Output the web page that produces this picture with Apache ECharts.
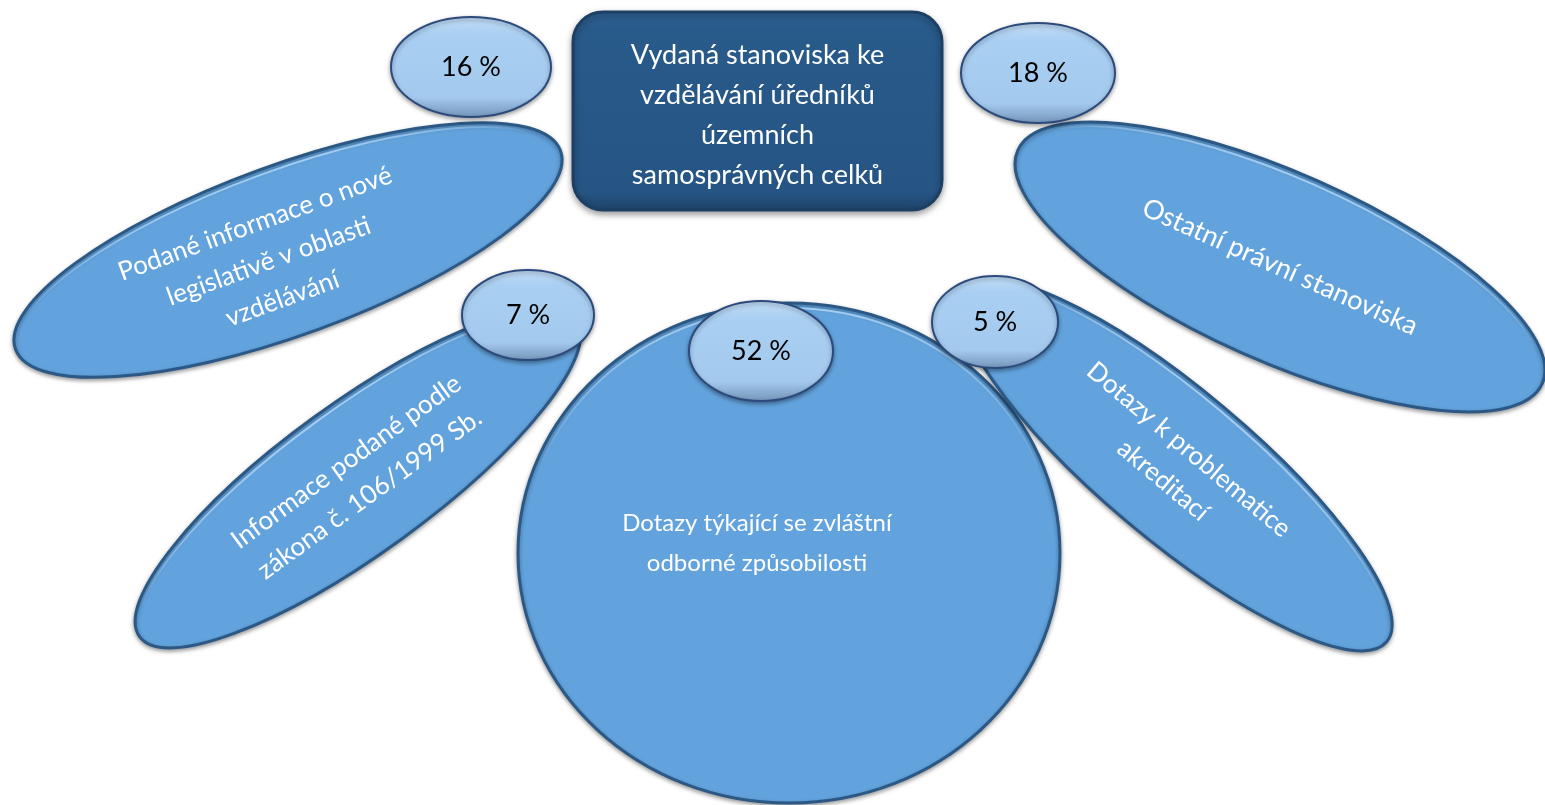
<!DOCTYPE html>
<html lang="cs">
<head>
    <meta charset="UTF-8">
    <title>Vydaná stanoviska</title>
    <script src="https://cdn.jsdelivr.net/npm/echarts@6/dist/echarts.min.js"></script>
    <style>
        html, body { margin: 0; padding: 0; background: #fff; }
        #main { width: 1545px; height: 805px; }
    </style>
</head>
<body>
    <div id="main"></div>
    <script>
        // data
        var centerTitle = 'Vydaná stanoviska ke\nvzdělávání úředníků\núzemních\nsamosprávných celků';
        var categories = [
            'Podané informace o nové\nlegislativě v oblasti\nvzdělávání',
            'Ostatní právní stanoviska',
            'Informace podané podle\nzákona č. 106/1999 Sb.',
            'Dotazy týkající se zvláštní\nodborné způsobilosti',
            'Dotazy k problematice\nakreditací'
        ];
        var shares = [16, 18, 7, 52, 5];

        // layout (centre x, centre y, radius x, radius y, rotation deg, text dx, text dy, font px)
        var petalLayout = [
            [288, 250, 290, 85, 20, -22, 4, 26],
            [1280, 267, 287, 94, -24, 0, 0, 27],
            [358, 478, 270, 75, 36, 0, 0, 26],
            [789, 553, 271, 250, 0, -32, -10, 24],
            [1176, 465, 275, 75, -40, 0, 0, 26]
        ];
        var bubbleLayout = [
            [471, 67, 80, 50],
            [1038, 73, 77, 50],
            [528, 315, 66, 45],
            [761, 351, 72, 50],
            [995, 322, 63, 46]
        ];
        var boxLayout = [573, 12, 942, 210];

        var petalData = categories.map(function (name, i) {
            return { name: name, value: petalLayout[i] };
        });
        var bubbleData = shares.map(function (v, i) {
            return { name: v + ' %', value: bubbleLayout[i] };
        });

        var font = 'Lato, "Open Sans", sans-serif';

        var chart = echarts.init(document.getElementById('main'));
        var option = {
            animation: false,
            grid: { left: 0, right: 0, top: 0, bottom: 0 },
            xAxis: { type: 'value', min: 0, max: 1545, show: false },
            yAxis: { type: 'value', min: 0, max: 805, inverse: true, show: false },
            series: [
                {
                    type: 'custom',
                    name: 'petals',
                    data: petalData,
                    renderItem: function (params, api) {
                        var c = api.coord([api.value(0), api.value(1)]);
                        var s = api.size([api.value(2), api.value(3)]);
                        var rot = api.value(4) * Math.PI / 180;
                        return {
                            type: 'group',
                            x: c[0], y: c[1],
                            rotation: rot,
                            children: [
                                {
                                    type: 'ellipse',
                                    shape: { cx: 0, cy: 0, rx: s[0], ry: s[1] },
                                    style: {
                                        fill: '#62a3de',
                                        stroke: '#2b5885',
                                        lineWidth: 3,
                                        shadowBlur: 4,
                                        shadowColor: 'rgba(0,0,0,0.35)',
                                        shadowOffsetY: 2
                                    }
                                },
                                {
                                    type: 'ellipse',
                                    shape: { cx: 0, cy: 0, rx: s[0] - 5, ry: s[1] - 5 },
                                    silent: true,
                                    style: {
                                        fill: 'none',
                                        stroke: new echarts.graphic.LinearGradient(0, 0, 0, 1, [
                                            { offset: 0, color: 'rgba(190,225,255,0.75)' },
                                            { offset: 0.35, color: 'rgba(190,225,255,0)' },
                                            { offset: 1, color: 'rgba(190,225,255,0)' }
                                        ]),
                                        lineWidth: 2
                                    }
                                },
                                {
                                    type: 'text',
                                    x: api.value(5), y: api.value(6),
                                    style: {
                                        text: categories[params.dataIndex],
                                        fill: '#ffffff',
                                        font: api.value(7) + 'px ' + font,
                                        align: 'center',
                                        verticalAlign: 'middle',
                                        lineHeight: 40
                                    }
                                }
                            ]
                        };
                    }
                },
                {
                    type: 'custom',
                    name: 'box',
                    data: [{ name: centerTitle, value: boxLayout }],
                    renderItem: function (params, api) {
                        var p1 = api.coord([api.value(0), api.value(1)]);
                        var p2 = api.coord([api.value(2), api.value(3)]);
                        return {
                            type: 'group',
                            children: [
                                {
                                    type: 'rect',
                                    shape: { x: p1[0], y: p1[1], width: p2[0] - p1[0], height: p2[1] - p1[1], r: 30 },
                                    style: {
                                        fill: new echarts.graphic.LinearGradient(0, 0, 0, 1, [
                                            { offset: 0, color: '#2e6194' },
                                            { offset: 0.1, color: '#285a8a' },
                                            { offset: 0.9, color: '#265584' },
                                            { offset: 1, color: '#1d4369' }
                                        ]),
                                        stroke: '#1c3f63',
                                        lineWidth: 3,
                                        shadowBlur: 6,
                                        shadowColor: 'rgba(0,0,0,0.35)',
                                        shadowOffsetY: 3
                                    }
                                },
                                {
                                    type: 'text',
                                    x: (p1[0] + p2[0]) / 2, y: (p1[1] + p2[1]) / 2 + 4,
                                    style: {
                                        text: centerTitle,
                                        fill: '#ffffff',
                                        font: '27px ' + font,
                                        align: 'center',
                                        verticalAlign: 'middle',
                                        lineHeight: 40
                                    }
                                }
                            ]
                        };
                    }
                },
                {
                    type: 'custom',
                    name: 'shares',
                    data: bubbleData,
                    renderItem: function (params, api) {
                        var c = api.coord([api.value(0), api.value(1)]);
                        var s = api.size([api.value(2), api.value(3)]);
                        return {
                            type: 'group',
                            x: c[0], y: c[1],
                            children: [
                                {
                                    type: 'ellipse',
                                    shape: { cx: 0, cy: 0, rx: s[0], ry: s[1] },
                                    style: {
                                        fill: new echarts.graphic.LinearGradient(0, 0, 0, 1, [
                                            { offset: 0, color: '#c4def6' },
                                            { offset: 0.18, color: '#a9cff2' },
                                            { offset: 0.8, color: '#a3c9ee' },
                                            { offset: 1, color: '#7393b8' }
                                        ]),
                                        stroke: '#2c4b7c',
                                        lineWidth: 2,
                                        shadowBlur: 4,
                                        shadowColor: 'rgba(0,0,0,0.35)',
                                        shadowOffsetY: 2
                                    }
                                },
                                {
                                    type: 'text',
                                    x: 0, y: 0,
                                    style: {
                                        text: shares[params.dataIndex] + ' %',
                                        fill: '#000000',
                                        font: '27px ' + font,
                                        align: 'center',
                                        verticalAlign: 'middle'
                                    }
                                }
                            ]
                        };
                    }
                }
            ]
        };
        chart.setOption(option);
    </script>
</body>
</html>
